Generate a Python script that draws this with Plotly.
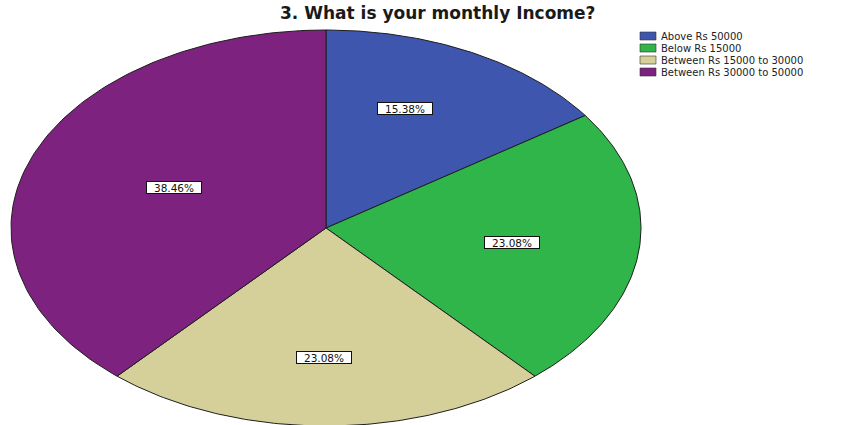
import numpy as np
import plotly.graph_objects as go

# Monthly income survey responses (share of respondents, %)
categories = ["Above Rs 50000", "Below Rs 15000", "Between Rs 15000 to 30000", "Between Rs 30000 to 50000"]
percents = [15.38, 23.08, 23.08, 38.46]
colors = ["#3F56AE", "#2FB54A", "#D5CF9A", "#7E2280"]

# Ellipse geometry in pixel-space axes
CX, CY, RX, RY = 326, 228, 315, 198
# label box centres (pixels)
label_pos = [(405, 108), (512, 242), (324, 357), (174, 187)]

fig = go.Figure()

total = sum(percents)
start = 0.0
for name, val, col in zip(categories, percents, colors):
    frac0 = start / total
    frac1 = (start + val) / total
    start += val
    th = np.linspace(frac0, frac1, 120) * 2 * np.pi  # clockwise from 12 o'clock
    xs = np.concatenate([[CX], CX + RX * np.sin(th), [CX]])
    ys = np.concatenate([[CY], CY - RY * np.cos(th), [CY]])
    fig.add_trace(go.Scatter(
        x=xs, y=ys, mode="lines", fill="toself", fillcolor=col,
        line=dict(color="#1e1e1e", width=1), name=name,
        hoverinfo="name", showlegend=False,
    ))

for (lx, ly), val in zip(label_pos, percents):
    fig.add_annotation(
        x=lx, y=ly, xref="x", yref="y", text=f"{val:.2f}%", showarrow=False,
        font=dict(family="DejaVu Sans", size=10.5, color="#111"),
        bgcolor="white", bordercolor="#111", borderwidth=1, borderpad=0,
        width=54, height=11,
    )

# legend drawn as swatches + text
for i, (name, col) in enumerate(zip(categories, colors)):
    yc = 36 + i * 12
    fig.add_shape(type="rect", xref="x", yref="y", x0=640, x1=656, y0=yc - 4, y1=yc + 4,
                  fillcolor=col, line=dict(color="#333", width=0.6))
    fig.add_annotation(x=659, y=yc, xref="x", yref="y", text=name, showarrow=False,
                       xanchor="left", yanchor="middle",
                       font=dict(family="DejaVu Sans", size=10, color="#222"))

fig.add_annotation(x=437, y=13, xref="x", yref="y", text="<b>3. What is your monthly Income?</b>",
                   showarrow=False, xanchor="center", yanchor="middle",
                   font=dict(family="DejaVu Sans", size=17, color="#1a1a1a"))

fig.update_xaxes(range=[0, 849], visible=False, fixedrange=True)
fig.update_yaxes(range=[425, 0], visible=False, fixedrange=True)
fig.update_layout(
    width=849, height=425, margin=dict(l=0, r=0, t=0, b=0),
    paper_bgcolor="white", plot_bgcolor="white", showlegend=False,
)

fig.write_html("out.html")
